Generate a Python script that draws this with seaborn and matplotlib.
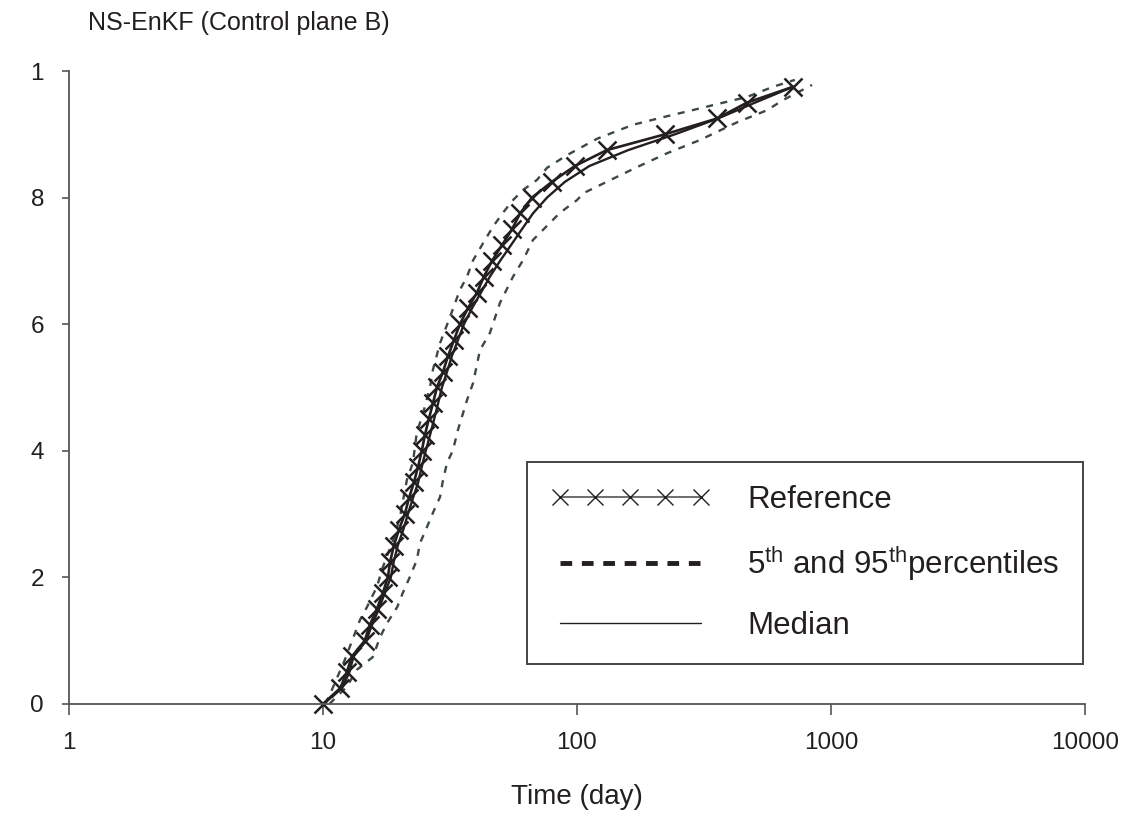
import matplotlib
matplotlib.use("Agg")
import matplotlib.pyplot as plt
from matplotlib.lines import Line2D
import seaborn as sns
import pandas as pd

# ---------------- data ----------------
ref_y = [0.0, 0.025, 0.05, 0.075, 0.1, 0.125, 0.15, 0.175, 0.2, 0.225,
         0.25, 0.275, 0.3, 0.325, 0.35, 0.375, 0.4, 0.425, 0.45, 0.475,
         0.5, 0.525, 0.55, 0.575, 0.6, 0.625, 0.65, 0.675, 0.7, 0.725,
         0.75, 0.775, 0.8, 0.825, 0.85, 0.875, 0.9, 0.925, 0.95, 0.975]
ref_x = [10, 11.7, 12.4, 13.0, 14.6, 15.3, 16.3, 17.2, 18.0, 18.4,
         19.0, 19.9, 21.0, 21.8, 22.8, 23.7, 24.5, 25.2, 26.1, 27.1,
         28.1, 29.7, 31.1, 32.8, 34.6, 37.2, 40.4, 43.0, 46.3, 50.7,
         55.5, 59.7, 66.5, 79.7, 98.2, 131, 222, 356, 467, 708]

med_y = ref_y
med_x = [10, 11.9, 12.7, 13.2, 14.8, 15.6, 16.6, 17.5, 18.5, 19.0,
         19.7, 20.7, 21.6, 22.6, 23.7, 24.5, 25.4, 26.4, 27.4, 28.4,
         29.4, 30.8, 32.2, 34.0, 35.9, 38.6, 41.9, 45.4, 49.8, 55.0,
         60.7, 67.1, 76.2, 89.7, 112, 159, 243, 359, 502, 708]

p5_x = [10.2, 10.7, 12.2, 14.0, 14.9, 16.3, 17.2, 18.9, 20.1, 21.4,
        22.6, 23.4, 24.8, 26.4, 27.1, 28.9, 31.6, 34.6, 36.9, 39.0,
        42.7, 46.7, 51.1, 56.0, 61.3, 69.6, 76.2, 91.3, 120, 166,
        218, 284, 359, 467, 591, 721]
p5_y = [0.0, 0.017, 0.070, 0.133, 0.153, 0.185, 0.216, 0.259, 0.295, 0.354,
        0.381, 0.428, 0.460, 0.501, 0.528, 0.570, 0.611, 0.654, 0.675, 0.701,
        0.728, 0.754, 0.776, 0.796, 0.812, 0.828, 0.847, 0.867, 0.893, 0.915,
        0.927, 0.938, 0.948, 0.959, 0.975, 0.986]

p95_x = [10.6, 12.4, 13.6, 15.7, 16.8, 17.9, 19.6, 20.6, 22.0, 23.4,
         24.1, 25.7, 27.1, 28.9, 29.7, 30.8, 32.5, 34.0, 36.9, 39.0,
         41.5, 45.4, 49.8, 56.0, 61.3, 67.1, 73.5, 85.7, 100, 106,
         172, 226, 305, 427, 560, 647, 842]
p95_y = [0.0, 0.027, 0.054, 0.074, 0.106, 0.128, 0.153, 0.175, 0.201, 0.227,
         0.254, 0.280, 0.302, 0.327, 0.354, 0.381, 0.401, 0.433, 0.480, 0.507,
         0.559, 0.586, 0.634, 0.675, 0.701, 0.733, 0.749, 0.776, 0.796, 0.807,
         0.848, 0.870, 0.891, 0.919, 0.938, 0.954, 0.978]

x_ticks = [1, 10, 100, 1000, 10000]
x_tick_labels = ["1", "10", "100", "1000", "10000"]
y_ticks = [0, 0.2, 0.4, 0.6, 0.8, 1.0]
y_tick_labels = ["0", "2", "4", "6", "8", "1"]

title = "NS-EnKF (Control plane B)"
x_label = "Time (day)"
legend_labels = ["Reference",
                 r"5$^{\mathrm{th}}$ and 95$^{\mathrm{th}}$percentiles",
                 "Median"]

# ---------------- style ----------------
sns.set_theme(style="white")
plt.rcParams["font.family"] = ["Liberation Sans", "DejaVu Sans"]
plt.rcParams["mathtext.fontset"] = "custom"
plt.rcParams["mathtext.rm"] = "Liberation Sans"
plt.rcParams["mathtext.it"] = "Liberation Sans:italic"
plt.rcParams["mathtext.bf"] = "Liberation Sans:bold"

TXT = "#231f20"
DASH = "#3c4848"

fig = plt.figure(figsize=(11.25, 8.22), dpi=100)
ax = fig.add_axes([0.0613, 0.1436, 0.9031, 0.7700])

df_ref = pd.DataFrame({"x": ref_x, "y": ref_y})
df_med = pd.DataFrame({"x": med_x, "y": med_y})
df_p5 = pd.DataFrame({"x": p5_x, "y": p5_y})
df_p95 = pd.DataFrame({"x": p95_x, "y": p95_y})

for d in (df_p5, df_p95):
    sns.lineplot(data=d, x="x", y="y", ax=ax, estimator=None, sort=False,
                 color=DASH, lw=1.7, linestyle=(0, (3, 3.2)))
sns.lineplot(data=df_med, x="x", y="y", ax=ax, estimator=None, sort=False,
             color=TXT, lw=1.7)
sns.lineplot(data=df_ref, x="x", y="y", ax=ax, estimator=None, sort=False,
             color=TXT, lw=1.9, marker="x", markersize=13.5,
             markeredgewidth=1.8, markeredgecolor=TXT, clip_on=False)

ax.set_xscale("log")
ax.set_xlim(1, 10000)
ax.set_ylim(0, 1)
ax.set_xticks(x_ticks)
ax.set_xticklabels(x_tick_labels)
ax.minorticks_off()
ax.set_yticks(y_ticks)
ax.set_yticklabels(y_tick_labels)

for s in ("top", "right"):
    ax.spines[s].set_visible(False)
for s in ("left", "bottom"):
    ax.spines[s].set_color("#555555")
    ax.spines[s].set_linewidth(1.3)

ax.tick_params(axis="x", direction="out", length=8, width=1.2, color="#555555",
               pad=12, labelsize=17.5, labelcolor=TXT, bottom=True)
ax.tick_params(axis="y", direction="out", length=5, width=1.2, color="#555555",
               pad=13, labelsize=17.5, labelcolor=TXT, left=True)

ax.set_xlabel(x_label, fontsize=20, color=TXT, labelpad=22)
ax.set_ylabel("")

fig.text(0.078, 0.972, title, fontsize=18, color=TXT, ha="left", va="center")

handles = [
    Line2D([], [], color="#555555", lw=1.2, marker="x", markersize=12,
           markeredgewidth=1.0, markeredgecolor=TXT),
    Line2D([], [], color=TXT, lw=3.5, linestyle=(0, (2.4, 2.0))),
    Line2D([], [], color=TXT, lw=1.0),
]
leg = ax.legend(handles, legend_labels, loc="lower left",
                bbox_to_anchor=(0.451, 0.063), fontsize=22.5,
                handlelength=5.1, handletextpad=1.2, labelspacing=0.9,
                borderpad=0.75, numpoints=5, frameon=True, fancybox=False,
                framealpha=1, borderaxespad=0)
leg.get_frame().set_edgecolor("#444444")
leg.get_frame().set_linewidth(1.4)
for t in leg.get_texts():
    t.set_color(TXT)

fig.savefig("out.png", dpi=100)
